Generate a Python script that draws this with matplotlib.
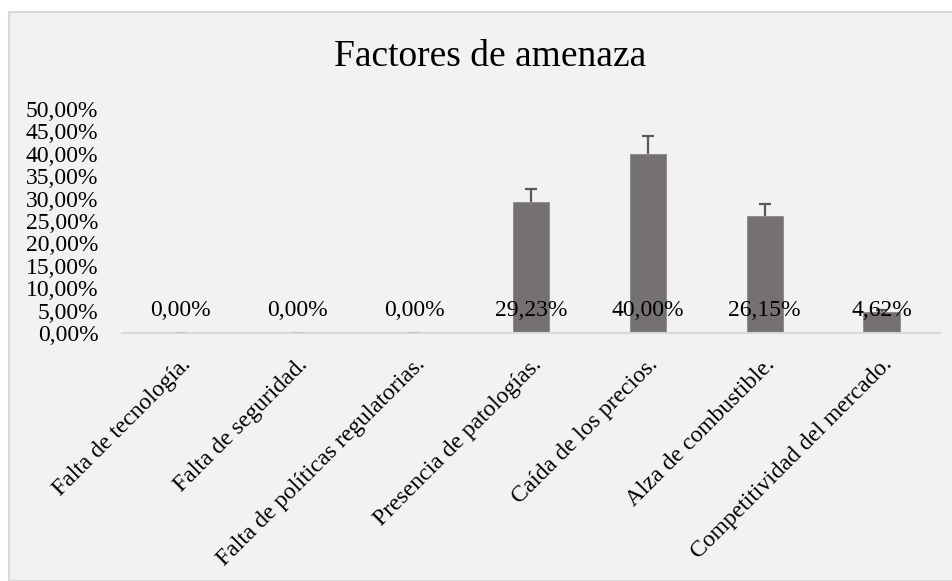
import matplotlib.pyplot as plt
from matplotlib.patches import Rectangle
from matplotlib.ticker import FuncFormatter

plt.rcParams['font.family'] = ['Liberation Serif', 'DejaVu Serif']

categories = ["Falta de tecnología.", "Falta de seguridad.", "Falta de políticas regulatorias.",
              "Presencia de patologías.", "Caída de los precios.", "Alza de combustible.",
              "Competitividad del mercado."]
values = [0.0, 0.0, 0.0, 29.23, 40.00, 26.15, 4.62]
errors = [0.0, 0.0, 0.0, 2.92, 4.00, 2.62, 0.46]
title = "Factores de amenaza"

W, H = 953, 581
fig = plt.figure(figsize=(W / 100, H / 100), dpi=100)
fig.patch.set_facecolor('white')

# chart area box (Excel style)
fig.patches.append(Rectangle((9 / W, 0), 1, 1 - 12 / H, transform=fig.transFigure,
                             facecolor='#f2f2f2', edgecolor='#d9d9d9', linewidth=1.5, zorder=-5))

ax = fig.add_axes([122 / W, 1 - 333 / H, (940 - 122) / W, (333 - 109) / H])
ax.set_facecolor('none')

x = list(range(len(categories)))
ax.bar(x, values, width=0.31, color='#767171', edgecolor='#8a8686', linewidth=0.6, zorder=2)

# plus-only error bars, cap only at the top
tops = [v + e for v, e in zip(values, errors)]
cap_col = ['#595959' if e > 0 else '#c8c8c8' for e in errors]
ax.vlines(x, values, tops, colors='#595959', linewidth=1.6, zorder=3)
ax.scatter(x, tops, marker='_', s=70, c=cap_col, linewidths=1.6, zorder=3)

def pct(v, pos=None):
    return f"{v:.2f}%".replace('.', ',')

for xi, v in zip(x, values):
    ax.text(xi, 5, pct(v), ha='center', va='center', fontsize=17, color='black', zorder=4)

ax.set_xlim(-0.5, len(categories) - 0.5)
ax.set_ylim(0, 50)
ax.set_yticks(range(0, 51, 5))
ax.yaxis.set_major_formatter(FuncFormatter(pct))
ax.set_xticks(x)
ax.set_xticklabels(categories, rotation=45, ha='right', rotation_mode='anchor')
ax.tick_params(axis='y', length=0, pad=17, labelsize=17)
ax.tick_params(axis='x', length=0, pad=15, labelsize=17)

for s in ['top', 'right', 'left']:
    ax.spines[s].set_visible(False)
ax.spines['bottom'].set_color('#d9d9d9')
ax.spines['bottom'].set_linewidth(1.5)

fig.text(490 / W, 1 - 57 / H, title, ha='center', va='center', fontsize=27)

fig.savefig('out.png', dpi=100)
